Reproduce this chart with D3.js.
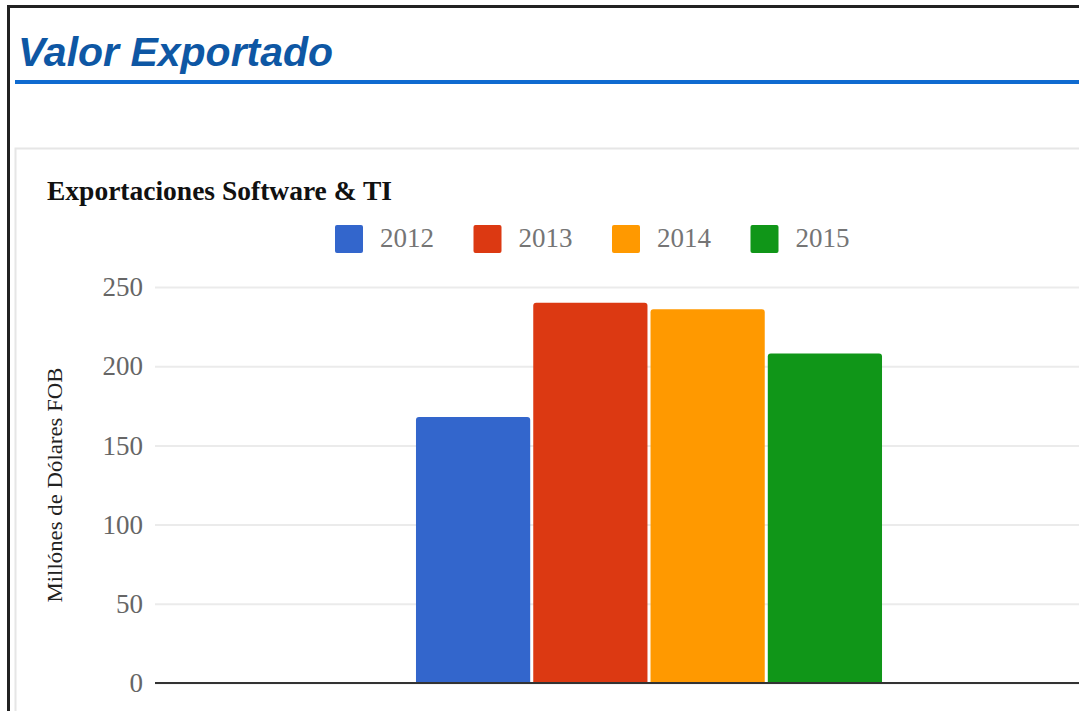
<!DOCTYPE html>
<html>
<head>
<meta charset="utf-8">
<script src="https://cdnjs.cloudflare.com/ajax/libs/d3/7.8.5/d3.min.js"></script>
<style>
  html, body { margin: 0; padding: 0; background: #fff; overflow: hidden; }
  svg { display: block; }
</style>
</head>
<body>
<svg id="chart"></svg>
<script>
// data
var categories = ["Exportaciones"];
var series = ["2012", "2013", "2014", "2015"];
var values = [168, 240, 236, 208];
var yTicks = [0, 50, 100, 150, 200, 250];

var colors = ["#3366cc", "#dc3912", "#ff9900", "#109618"];

var W = 1079, H = 711;
var svg = d3.select('#chart').attr('width', W).attr('height', H);

// page frame (screenshot border)
svg.append('rect').attr('x', 7).attr('y', 5).attr('width', W).attr('height', 3).attr('fill', '#222');
svg.append('rect').attr('x', 7).attr('y', 5).attr('width', 3).attr('height', H).attr('fill', '#222');

// page heading
svg.append('text')
    .attr('x', 18).attr('y', 66)
    .style('font-family', '"Liberation Sans", Arial, sans-serif')
    .style('font-weight', 'bold')
    .style('font-style', 'italic')
    .style('font-size', '41px')
    .attr('fill', '#0e57a4')
    .text('Valor Exportado');

svg.append('rect').attr('x', 15).attr('y', 80).attr('width', W).attr('height', 4).attr('fill', '#0f6bd0');

// chart box
svg.append('rect')
    .attr('x', 15.5).attr('y', 148.5).attr('width', W).attr('height', H)
    .attr('fill', 'none').attr('stroke', '#e6e6e6').attr('stroke-width', 2);

svg.append('text')
    .attr('x', 47).attr('y', 200)
    .style('font-family', '"Liberation Serif", "Times New Roman", serif')
    .style('font-weight', 'bold')
    .style('font-size', '27.5px')
    .attr('fill', '#111')
    .text('Exportaciones Software & TI');

// legend
var legend = svg.selectAll('.legend')
    .data(series)
    .enter()
    .append('g')
    .attr('class', 'legend')
    .attr('transform', (d, i) => 'translate(' + (335 + i * 138.5) + ',225)');

legend.append('rect')
    .attr('width', 28).attr('height', 28).attr('rx', 2)
    .attr('fill', (d, i) => colors[i]);

legend.append('text')
    .attr('x', 45).attr('y', 22)
    .style('font-family', '"Liberation Serif", "Times New Roman", serif')
    .style('font-size', '27px')
    .attr('fill', '#757575')
    .text(d => d);

// plot
var plot = { left: 155, right: 1143, top: 287, bottom: 683 };

var y = d3.scaleLinear()
    .domain([0, 250])
    .range([plot.bottom, plot.top]);

var x0 = d3.scaleBand()
    .domain(categories)
    .range([plot.left, plot.right])
    .paddingOuter(0.56)
    .paddingInner(0);

var x1 = d3.scaleBand()
    .domain(series)
    .range([0, x0.bandwidth()])
    .paddingInner(0.026);

var yAxis = d3.axisLeft(y)
    .tickValues(yTicks)
    .tickSize(-(W - plot.left))
    .tickPadding(12);

var gy = svg.append('g')
    .attr('transform', 'translate(' + plot.left + ',0)')
    .call(yAxis);
gy.select('.domain').remove();
gy.selectAll('.tick line').attr('stroke', '#ebebeb').attr('stroke-width', 2);
gy.selectAll('.tick text')
    .style('font-family', '"Liberation Serif", "Times New Roman", serif')
    .style('font-size', '27px')
    .attr('fill', '#666')
    .attr('dy', '0.32em');

// clip so only the top corners of the bars are rounded
svg.append('clipPath').attr('id', 'plotclip')
    .append('rect')
    .attr('x', plot.left).attr('y', plot.top - 20)
    .attr('width', W).attr('height', plot.bottom - plot.top + 20);

var g = svg.append('g')
    .attr('clip-path', 'url(#plotclip)')
    .append('g')
    .attr('transform', 'translate(' + x0(categories[0]) + ',0)');

g.selectAll('rect')
    .data(values)
    .enter()
    .append('rect')
    .attr('x', (d, i) => x1(series[i]))
    .attr('y', d => y(d))
    .attr('width', x1.bandwidth())
    .attr('height', d => plot.bottom - y(d) + 6)
    .attr('rx', 3)
    .attr('fill', (d, i) => colors[i]);

// baseline
svg.append('line')
    .attr('x1', plot.left).attr('x2', W)
    .attr('y1', y(0)).attr('y2', y(0))
    .style('stroke', '#333')
    .style('stroke-width', 2);

// y label
svg.append('text')
    .attr('transform', 'translate(62,' + ((plot.top + plot.bottom) / 2) + ') rotate(-90)')
    .attr('text-anchor', 'middle')
    .style('font-family', '"Liberation Serif", "Times New Roman", serif')
    .style('font-size', '21px')
    .attr('textLength', 235)
    .attr('lengthAdjust', 'spacingAndGlyphs')
    .attr('fill', '#222')
    .text('Millónes de Dólares FOB');
</script>
</body>
</html>
